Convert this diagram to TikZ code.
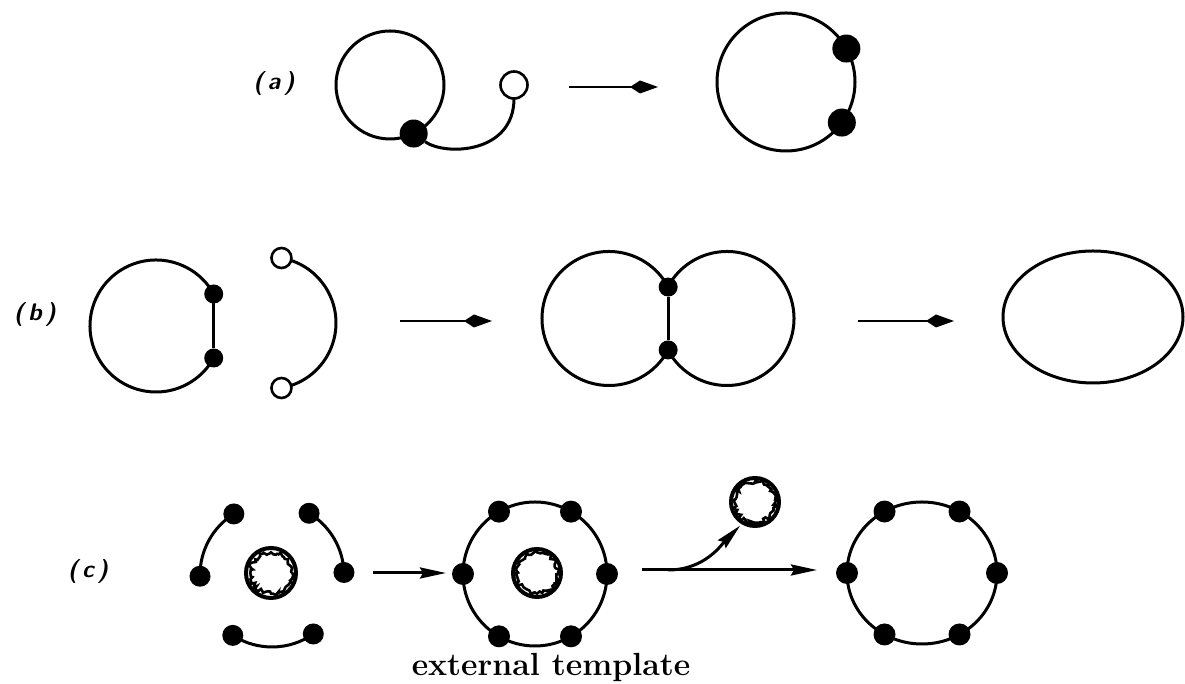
\documentclass[tikz,border=0pt]{standalone}
\usepackage{tikz}
\usetikzlibrary{arrows.meta, calc, decorations.pathmorphing}

\begin{document}
\begin{tikzpicture}[x=0.5pt, y=0.5pt,
  every node/.style={inner sep=0pt, outer sep=0pt},
  loop/.style={line width=1.5pt},
  bigdot/.style={circle, fill=black, minimum size=14pt},
  smalldot/.style={circle, fill=black, minimum size=9.5pt},
  ringdot/.style={circle, fill=black, minimum size=11pt},
  opendot/.style={circle, draw, line width=1.3pt, fill=white, minimum size=10pt},
  trans/.style={line width=1.3pt, -{Kite[length=14pt, width=6.5pt, inset=5pt]}},
  push/.style={line width=1.5pt, -{Stealth[length=13pt, width=5.5pt, inset=1.5pt]}},
  fuzzy/.style={circle, draw, line width=2pt, minimum size=25pt,
    path picture={\draw[line width=1.3pt, decorate,
      decoration={random steps, segment length=1.1pt, amplitude=1.1pt}]
      (path picture bounding box.center) circle[radius=10.3pt];}},
  tag/.style={font=\sffamily\bfseries\itshape\large}]
  \pgfmathsetseed{7}
  \useasboundingbox (0,0) rectangle (1185,684);

  % Row (a)
  \node[tag] (a-tag) at (274,600) {(\,a\,)};
  \coordinate (a-loop) at (390,599);
  \draw[loop] (a-loop) circle[radius=54];
  \node[bigdot] (a-junction) at ($(a-loop)+(-64:54)$) {};
  \node[opendot, minimum size=13.5pt] (a-end) at (514,599) {};
  \draw[loop] (a-junction) .. controls (445,528) and (514,530) .. (a-end.south);
  \coordinate (a-from) at (569,597);
  \coordinate (a-to) at (658,597);
  \draw[trans] (a-from) -- (a-to);
  \coordinate (a-merged) at (786,602);
  \draw[loop] (a-merged) circle[radius=69];
  \node[bigdot] (a-upper) at ($(a-merged)+(29:69)$) {};
  \node[bigdot] (a-lower) at ($(a-merged)+(-36:69)$) {};

  % Row (b)
  \node[tag] (b-tag) at (35,369) {(\,b\,)};
  \coordinate (b-ring) at (156,358);
  \draw[loop] ($(b-ring)+(29:66)$) arc[start angle=29, end angle=331, radius=66];
  \node[smalldot] (b-top) at ($(b-ring)+(29:66)$) {};
  \node[smalldot] (b-bottom) at ($(b-ring)+(-29:66)$) {};
  \draw[loop] (b-top) -- (b-bottom);
  \coordinate (b-chain) at (270,361);
  \draw[loop] ($(b-chain)+(80:66)$) arc[start angle=80, end angle=-80, radius=66];
  \node[opendot] (b-open-top) at ($(b-chain)+(80:66)$) {};
  \node[opendot] (b-open-bottom) at ($(b-chain)+(-80:66)$) {};
  \coordinate (b-from) at (400,363);
  \coordinate (b-to) at (492,363);
  \draw[trans] (b-from) -- (b-to);
  \coordinate (b-left) at (609,365.5);
  \coordinate (b-right) at (727,365.5);
  \draw[loop] ($(b-left)+(28:67)$) arc[start angle=28, end angle=332, radius=67];
  \draw[loop] ($(b-right)+(152:67)$) arc[start angle=152, end angle=-152, radius=67];
  \node[smalldot] (b-join-top) at ($(b-left)+(28:67)$) {};
  \node[smalldot] (b-join-bottom) at ($(b-left)+(-28:67)$) {};
  \draw[loop] (b-join-top) -- (b-join-bottom);
  \coordinate (b-from2) at (858,363);
  \coordinate (b-to2) at (954,363);
  \draw[trans] (b-from2) -- (b-to2);
  \draw[loop] (1093,367) ellipse[x radius=90, y radius=66];

  % Row (c)
  \node[tag] (c-tag) at (88,112) {(\,c\,)};
  \coordinate (c-pieces) at (272,109);
  \foreach \s/\e in {122/181, 2/59, 237/305} {
    \draw[loop] ($(c-pieces)+(\s:72)$) arc[start angle=\s, end angle=\e, radius=72];
    \node[ringdot, minimum size=10.5pt] (c-piece-\s) at ($(c-pieces)+(\s:72)$) {};
    \node[ringdot, minimum size=10.5pt] (c-piece-\e) at ($(c-pieces)+(\e:72)$) {};
  }
  \node[fuzzy] (c-core) at (271,111) {};
  \coordinate (c-from) at (373,111);
  \coordinate (c-to) at (446,111);
  \draw[push] (c-from) -- (c-to);
  \coordinate (c-ring) at (535,110);
  \draw[loop] (c-ring) circle[radius=72];
  \foreach \a in {0,60,...,300}
    \node[ringdot] (c-ring-\a) at ($(c-ring)+(\a:72)$) {};
  \node[fuzzy, minimum size=24pt] (c-inner) at (537,111) {};
  \node[anchor=base, font=\fontsize{16}{19}\selectfont\bfseries] (c-caption) at (551,8) {external template};
  \coordinate (c-split) at (642,114);
  \coordinate (c-out) at (817,114);
  \coordinate (c-fork) at (668,114);
  \draw[push] (c-split) -- (c-out);
  \node[fuzzy, minimum size=24pt] (c-released) at (755,182) {};
  \draw[push, shorten >=2pt] (c-fork) .. controls (705,114) and (722,140) .. (c-released.240);
  \coordinate (c-final) at (922,111);
  \draw[loop] (c-final) ellipse[x radius=75, y radius=71];
  \foreach \a in {0,60,...,300}
    \node[ringdot] (c-final-\a) at ($(c-final)+({75*cos(\a)},{71*sin(\a)})$) {};
\end{tikzpicture}
\end{document}
